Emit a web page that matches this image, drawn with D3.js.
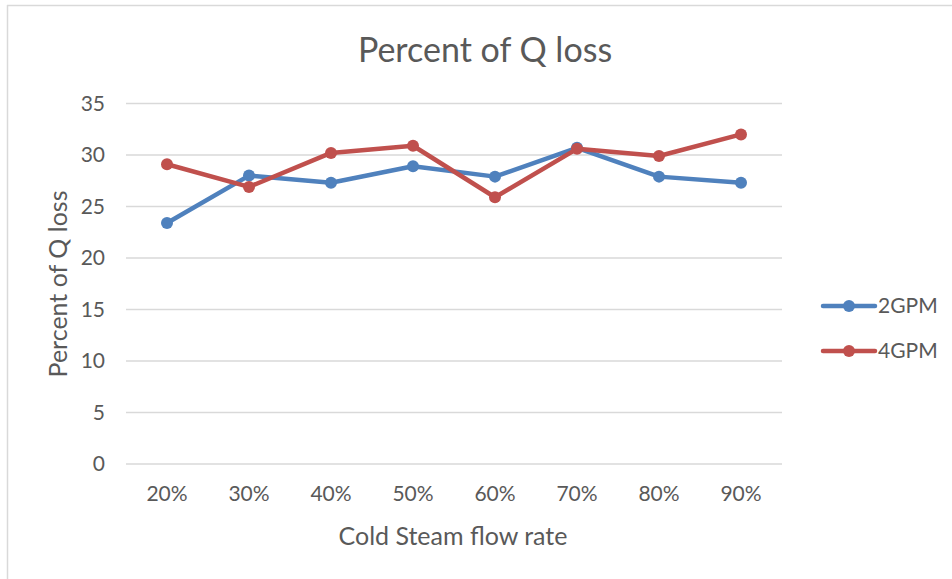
<!DOCTYPE html>
<html>
<head>
<meta charset="utf-8">
<script src="https://cdn.jsdelivr.net/npm/d3@7/dist/d3.min.js"></script>
<style>
  body { margin: 0; background: #fff; }
  text { font-family: Lato, "Open Sans", sans-serif; fill: #595959; }
</style>
</head>
<body>
<script>
var categories = ["20%", "30%", "40%", "50%", "60%", "70%", "80%", "90%"];
var gpm2 = [23.4, 28.0, 27.3, 28.9, 27.9, 30.7, 27.9, 27.3];
var gpm4 = [29.1, 26.9, 30.2, 30.9, 25.9, 30.6, 29.9, 32.0];
var yTicks = [0, 5, 10, 15, 20, 25, 30, 35];
var seriesNames = ["2GPM", "4GPM"];
var colors = ["#4F81BD", "#C0504D"];

var W = 952, H = 579;
var plotLeft = 126, plotRight = 782, plotTop = 103.5, plotBottom = 464;

var svg = d3.select("body").append("svg")
  .attr("width", W).attr("height", H);

// chart frame (only top and left visible in the picture)
svg.append("line").attr("x1", 7).attr("x2", W).attr("y1", 5.5).attr("y2", 5.5)
  .attr("stroke", "#d9d9d9").attr("stroke-width", 1.5);
svg.append("line").attr("x1", 7.5).attr("x2", 7.5).attr("y1", 5).attr("y2", H)
  .attr("stroke", "#d9d9d9").attr("stroke-width", 1.5);

var x = d3.scaleBand().domain(categories).range([plotLeft, plotRight]);
var y = d3.scaleLinear().domain([0, 35]).range([plotBottom, plotTop]);

// gridlines
svg.append("g").selectAll("line").data(yTicks).enter().append("line")
  .attr("x1", plotLeft).attr("x2", plotRight)
  .attr("y1", function(d) { return y(d); })
  .attr("y2", function(d) { return y(d); })
  .attr("stroke", "#d9d9d9").attr("stroke-width", 1.3);

// y tick labels
svg.append("g").selectAll("text").data(yTicks).enter().append("text")
  .attr("x", 105).attr("y", function(d) { return y(d); })
  .attr("dy", "0.35em").attr("text-anchor", "end")
  .style("font-size", "21px")
  .text(function(d) { return d; });

// x tick labels
svg.append("g").selectAll("text").data(categories).enter().append("text")
  .attr("x", function(d) { return x(d) + x.bandwidth() / 2; })
  .attr("y", 494).attr("dy", "0.35em").attr("text-anchor", "middle")
  .style("font-size", "21px")
  .text(function(d) { return d; });

// titles
svg.append("text").attr("x", 485).attr("y", 50).attr("dy", "0.35em")
  .attr("text-anchor", "middle").style("font-size", "34px")
  .text("Percent of Q loss");
svg.append("text").attr("x", 453).attr("y", 536).attr("dy", "0.35em")
  .attr("text-anchor", "middle").style("font-size", "25px")
  .text("Cold Steam  flow rate");
svg.append("text")
  .attr("transform", "translate(58," + 284 + ") rotate(-90)")
  .attr("dy", "0.35em").attr("text-anchor", "middle").style("font-size", "25px")
  .text("Percent of Q loss");

var line = d3.line()
  .x(function(d, i) { return x(categories[i]) + x.bandwidth() / 2; })
  .y(function(d) { return y(d); });

[gpm2, gpm4].forEach(function(vals, s) {
  var g = svg.append("g");
  g.append("path").datum(vals).attr("d", line)
    .attr("fill", "none").attr("stroke", colors[s])
    .attr("stroke-width", 4.5).attr("stroke-linejoin", "round").attr("stroke-linecap", "round");
  g.selectAll("circle").data(vals).enter().append("circle")
    .attr("cx", function(d, i) { return x(categories[i]) + x.bandwidth() / 2; })
    .attr("cy", function(d) { return y(d); })
    .attr("r", 6).attr("fill", colors[s]);
});

// legend
var legend = svg.append("g").selectAll("g").data(seriesNames).enter().append("g")
  .attr("transform", function(d, i) { return "translate(0," + (306 + i * 45) + ")"; });
legend.append("line").attr("x1", 823).attr("x2", 875).attr("y1", 0).attr("y2", 0)
  .attr("stroke", function(d, i) { return colors[i]; })
  .attr("stroke-width", 4.5).attr("stroke-linecap", "round");
legend.append("circle").attr("cx", 849).attr("cy", 0).attr("r", 6)
  .attr("fill", function(d, i) { return colors[i]; });
legend.append("text").attr("x", 878).attr("y", 0).attr("dy", "0.35em")
  .style("font-size", "21px")
  .text(function(d) { return d; });
</script>
</body>
</html>
